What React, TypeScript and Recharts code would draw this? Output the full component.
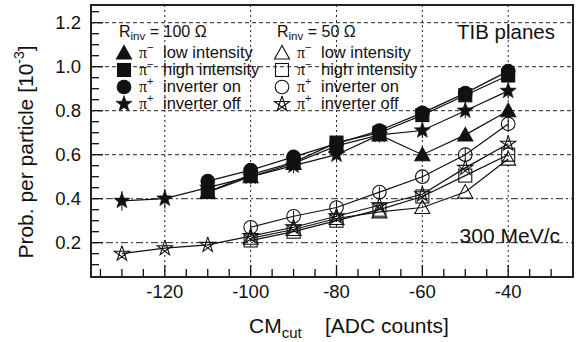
import React from 'react';
import { LineChart, Line, XAxis, YAxis, ReferenceLine, ReferenceArea, ErrorBar } from 'recharts';

// ---- data (CM cut in ADC counts, probability per particle in 10^-3) ----
const cmCut = [-130, -120, -110, -100, -90, -80, -70, -60, -50, -40];

// R_inv = 100 Ohm (filled markers)
const piMinusLow100 = [null, null, 0.43, 0.50, 0.56, 0.64, 0.69, 0.60, 0.69, 0.80];
const piMinusHigh100 = [null, null, 0.43, 0.51, 0.565, 0.655, 0.70, 0.78, 0.87, 0.96];
const piPlusInvOn100 = [null, null, 0.48, 0.53, 0.59, 0.65, 0.71, 0.79, 0.88, 0.98];
const piPlusInvOff100 = [0.39, 0.40, 0.45, 0.50, 0.55, 0.60, 0.69, 0.71, 0.80, 0.89];
const piPlusInvOff100Err = [0.045, 0.045, 0.035, 0.035, 0.035, 0.035, 0.035, 0.035, 0.035, 0.035];

// R_inv = 50 Ohm (open markers)
const piMinusLow50 = [null, null, null, 0.22, 0.26, 0.31, 0.34, 0.36, 0.43, 0.58];
const piMinusHigh50 = [null, null, null, 0.21, 0.25, 0.30, 0.35, 0.41, 0.505, 0.60];
const piPlusInvOn50 = [null, null, null, 0.27, 0.32, 0.36, 0.43, 0.50, 0.60, 0.74];
const piPlusInvOn50Err = [null, null, null, 0.025, 0.025, 0.025, 0.025, 0.025, 0.03, 0.03];
const piPlusInvOff50 = [0.15, 0.175, 0.19, 0.23, 0.27, 0.32, 0.37, 0.42, 0.54, 0.65];

// ---- axes ----
const xMajorTicks = [-120, -100, -80, -60, -40];
const xAllTicks = [-135, -130, -125, -120, -115, -110, -105, -100, -95, -90, -85, -80, -75, -70, -65, -60, -55, -50, -45, -40, -35, -30];
const yMajorTicks = [0.2, 0.4, 0.6, 0.8, 1.0, 1.2];
const yAllTicks = [0.1, 0.15, 0.2, 0.25, 0.3, 0.35, 0.4, 0.45, 0.5, 0.55, 0.6, 0.65, 0.7, 0.75, 0.8, 0.85, 0.9, 0.95, 1.0, 1.05, 1.1, 1.15, 1.2, 1.25];
const yMajorLabels = ['0.2', '0.4', '0.6', '0.8', '1.0', '1.2'];
const xMajorLabels = ['-120', '-100', '-80', '-60', '-40'];
const yGridDashed = [0.6, 0.8, 1.0, 1.2];
const yGridDashDot = [0.2, 0.4];
const X_DOMAIN: [number, number] = [-137.2, -24.9];
const Y_DOMAIN: [number, number] = [0.044, 1.2805];

const legend100 = [
  { kind: 'tri', charge: '\u2212', text: 'low intensity' },
  { kind: 'sq', charge: '\u2212', text: 'high intensity' },
  { kind: 'circ', charge: '+', text: 'inverter on' },
  { kind: 'star', charge: '+', text: 'inverter off' },
];
const legend50 = [
  { kind: 'tri', charge: '\u2212', text: 'low intensity' },
  { kind: 'sq', charge: '\u2212', text: 'high intensity' },
  { kind: 'circ', charge: '+', text: 'inverter on' },
  { kind: 'pent', charge: '+', text: 'inverter off' },
];

const data = cmCut.map((x, i) => ({
  x,
  triF: piMinusLow100[i],
  sqF: piMinusHigh100[i],
  circF: piPlusInvOn100[i],
  starF: piPlusInvOff100[i],
  starFErr: piPlusInvOff100Err[i],
  triO: piMinusLow50[i],
  sqO: piMinusHigh50[i],
  circO: piPlusInvOn50[i],
  circOErr: piPlusInvOn50Err[i],
  starO: piPlusInvOff50[i],
}));

const INK = '#111';
const FONT = '"Liberation Sans", Arial, Helvetica, sans-serif';

function Marker({ kind, filled, cx, cy }: { kind: string; filled: boolean; cx: number; cy: number }) {
  const fill = filled ? INK : 'none';
  const sw = 1.1;
  if (kind === 'tri') {
    const pts = `${cx},${cy - 7.5} ${cx - 7.5},${cy + 6} ${cx + 7.5},${cy + 6}`;
    return <polygon points={pts} fill={fill} stroke={INK} strokeWidth={sw} />;
  }
  if (kind === 'sq') {
    return <rect x={cx - 6.5} y={cy - 6.5} width={13} height={13} fill={fill} stroke={INK} strokeWidth={sw} />;
  }
  if (kind === 'circ') {
    return <circle cx={cx} cy={cy} r={6.8} fill={fill} stroke={INK} strokeWidth={sw} />;
  }
  if (kind === 'star') {
    const pts: string[] = [];
    for (let k = 0; k < 10; k++) {
      const a = (-90 + k * 36) * Math.PI / 180;
      const r = k % 2 === 0 ? 8.5 : 3.5;
      pts.push(`${cx + r * Math.cos(a)},${cy + r * Math.sin(a)}`);
    }
    return <polygon points={pts.join(' ')} fill={fill} stroke={INK} strokeWidth={0.6} />;
  }
  // pentagram (open star drawn as crossing lines)
  const order = [0, 2, 4, 1, 3, 0];
  const pts = order.map((k) => {
    const a = (-90 + k * 72) * Math.PI / 180;
    return `${cx + 8 * Math.cos(a)},${cy + 8 * Math.sin(a)}`;
  });
  return <polyline points={pts.join(' ')} fill="none" stroke={INK} strokeWidth={sw} />;
}

const makeDot = (kind: string, filled: boolean, id: string) => (p: any) => {
  const key = `${id}-${p.index}`;
  if (p.cx == null || p.cy == null || p.value == null || Number.isNaN(p.cy)) return <g key={key} />;
  return (
    <g key={key}>
      <Marker kind={kind} filled={filled} cx={p.cx} cy={p.cy} />
    </g>
  );
};

const XTick = (props: any) => {
  const { x, payload } = props;
  const y = props.y;
  const idx = xMajorTicks.indexOf(payload.value);
  const major = idx >= 0;
  return (
    <g>
      <line x1={x} x2={x} y1={y} y2={y - (major ? 12 : 8)} stroke={INK} strokeWidth={1.3} />
      {major && (
        <text x={x} y={y + 21} textAnchor="middle" fontSize={18.5} fontFamily={FONT} fill={INK}>
          {xMajorLabels[idx]}
        </text>
      )}
    </g>
  );
};

const YTick = (props: any) => {
  const { x, y, payload } = props;
  const idx = yMajorTicks.findIndex((v) => Math.abs(v - payload.value) < 1e-6);
  const major = idx >= 0;
  return (
    <g>
      <line x1={x} x2={x + (major ? 12 : 8)} y1={y} y2={y} stroke={INK} strokeWidth={1.3} />
      {major && (
        <text x={x - 10} y={y + 6.5} textAnchor="end" fontSize={18.5} fontFamily={FONT} fill={INK}>
          {yMajorLabels[idx]}
        </text>
      )}
    </g>
  );
};

function LegendBlock({ x0, title, items, filled }: { x0: number; title: string; items: any[]; filled: boolean }) {
  const rows = [53, 70, 87, 104];
  return (
    <g fontFamily={FONT} fill={INK}>
      <text x={x0} y={37} fontSize={16}>
        R<tspan fontSize={11.5} dy={3}>inv</tspan>
        <tspan dy={-3}>{` = ${title} \u03A9`}</tspan>
      </text>
      {items.map((it, i) => {
        const cx = x0 + 5;
        const cy = rows[i];
        return (
          <g key={i}>
            <Marker kind={it.kind} filled={filled} cx={cx} cy={cy} />
            <text x={cx + 15} y={cy + 5} fontSize={16} fontFamily='"Liberation Serif", "Times New Roman", serif'>
              {'\u03C0'}
              <tspan fontSize={11} dy={-7} fontFamily={FONT}>{it.charge}</tspan>
            </text>
            <text x={cx + 39} y={cy + 5} fontSize={16.5}>{it.text}</text>
          </g>
        );
      })}
    </g>
  );
}

export default function App() {
  return (
    <div style={{ position: 'absolute', left: 0, top: 0, width: 578, height: 342, background: '#fff' }}>
      <LineChart
        width={578}
        height={342}
        data={data}
        margin={{ top: 5, right: 5, bottom: 64, left: 90 }}
      >
        <XAxis
          dataKey="x"
          type="number"
          domain={X_DOMAIN}
          allowDataOverflow
          ticks={xAllTicks}
          interval={0}
          tick={<XTick />}
          tickLine={false}
          tickSize={0}
          tickMargin={0}
          height={1}
          axisLine={{ stroke: '#222', strokeWidth: 2 }}
        />
        <YAxis
          type="number"
          domain={Y_DOMAIN}
          allowDataOverflow
          ticks={yAllTicks}
          interval={0}
          tick={<YTick />}
          tickLine={false}
          tickSize={0}
          tickMargin={0}
          width={1}
          axisLine={{ stroke: '#222', strokeWidth: 2 }}
        />
        {yGridDashed.map((v) => (
          <ReferenceLine key={`gy${v}`} y={v} stroke="#222" strokeWidth={1} strokeDasharray="4 3" />
        ))}
        {yGridDashDot.map((v) => (
          <ReferenceLine key={`gd${v}`} y={v} stroke="#222" strokeWidth={1} strokeDasharray="7 3 2 3" />
        ))}
        {xMajorTicks.map((v) => (
          <ReferenceLine key={`gx${v}`} x={v} stroke="#222" strokeWidth={1} strokeDasharray="2 3" />
        ))}
        <ReferenceArea x1={X_DOMAIN[0]} x2={X_DOMAIN[1]} y1={Y_DOMAIN[0]} y2={Y_DOMAIN[1]} fill="none" stroke="#222" strokeWidth={2} fillOpacity={0} />

        <Line dataKey="triO" stroke={INK} strokeWidth={1.2} dot={makeDot('tri', false, 'triO')} activeDot={false} isAnimationActive={false} />
        <Line dataKey="sqO" stroke={INK} strokeWidth={1.2} dot={makeDot('sq', false, 'sqO')} activeDot={false} isAnimationActive={false} />
        <Line dataKey="circO" stroke={INK} strokeWidth={1.2} dot={makeDot('circ', false, 'circO')} activeDot={false} isAnimationActive={false}>
          <ErrorBar dataKey="circOErr" direction="y" width={0} stroke={INK} strokeWidth={1} />
        </Line>
        <Line dataKey="starO" stroke={INK} strokeWidth={1.2} dot={makeDot('pent', false, 'starO')} activeDot={false} isAnimationActive={false} />

        <Line dataKey="starF" stroke={INK} strokeWidth={1.2} dot={makeDot('star', true, 'starF')} activeDot={false} isAnimationActive={false}>
          <ErrorBar dataKey="starFErr" direction="y" width={0} stroke={INK} strokeWidth={1} />
        </Line>
        <Line dataKey="triF" stroke={INK} strokeWidth={1.2} dot={makeDot('tri', true, 'triF')} activeDot={false} isAnimationActive={false} />
        <Line dataKey="sqF" stroke={INK} strokeWidth={1.2} dot={makeDot('sq', true, 'sqF')} activeDot={false} isAnimationActive={false} />
        <Line dataKey="circF" stroke={INK} strokeWidth={1.2} dot={makeDot('circ', true, 'circF')} activeDot={false} isAnimationActive={false} />
      </LineChart>

      <svg width={578} height={342} style={{ position: 'absolute', left: 0, top: 0, pointerEvents: 'none' }}>
        <LegendBlock x0={119} title="100" items={legend100} filled={true} />
        <LegendBlock x0={277} title="50" items={legend50} filled={false} />
        <text x={555} y={39} textAnchor="end" fontSize={20.5} fontFamily={FONT} fill={INK}>TIB planes</text>
        <text x={560} y={243} textAnchor="end" fontSize={21} fontFamily={FONT} fill={INK}>300 MeV/c</text>
        <text transform="translate(33,152) rotate(-90)" textAnchor="middle" fontSize={21} fontFamily={FONT} fill={INK}>
          Prob. per particle [10<tspan fontSize={14} dy={-9}>-3</tspan><tspan dy={9}>]</tspan>
        </text>
        <text x={249} y={333} fontSize={21} fontFamily={FONT} fill={INK}>
          CM<tspan fontSize={15} dy={5}>cut</tspan>
        </text>
        <text x={325} y={333} fontSize={21} fontFamily={FONT} fill={INK}>[ADC counts]</text>
      </svg>
    </div>
  );
}
